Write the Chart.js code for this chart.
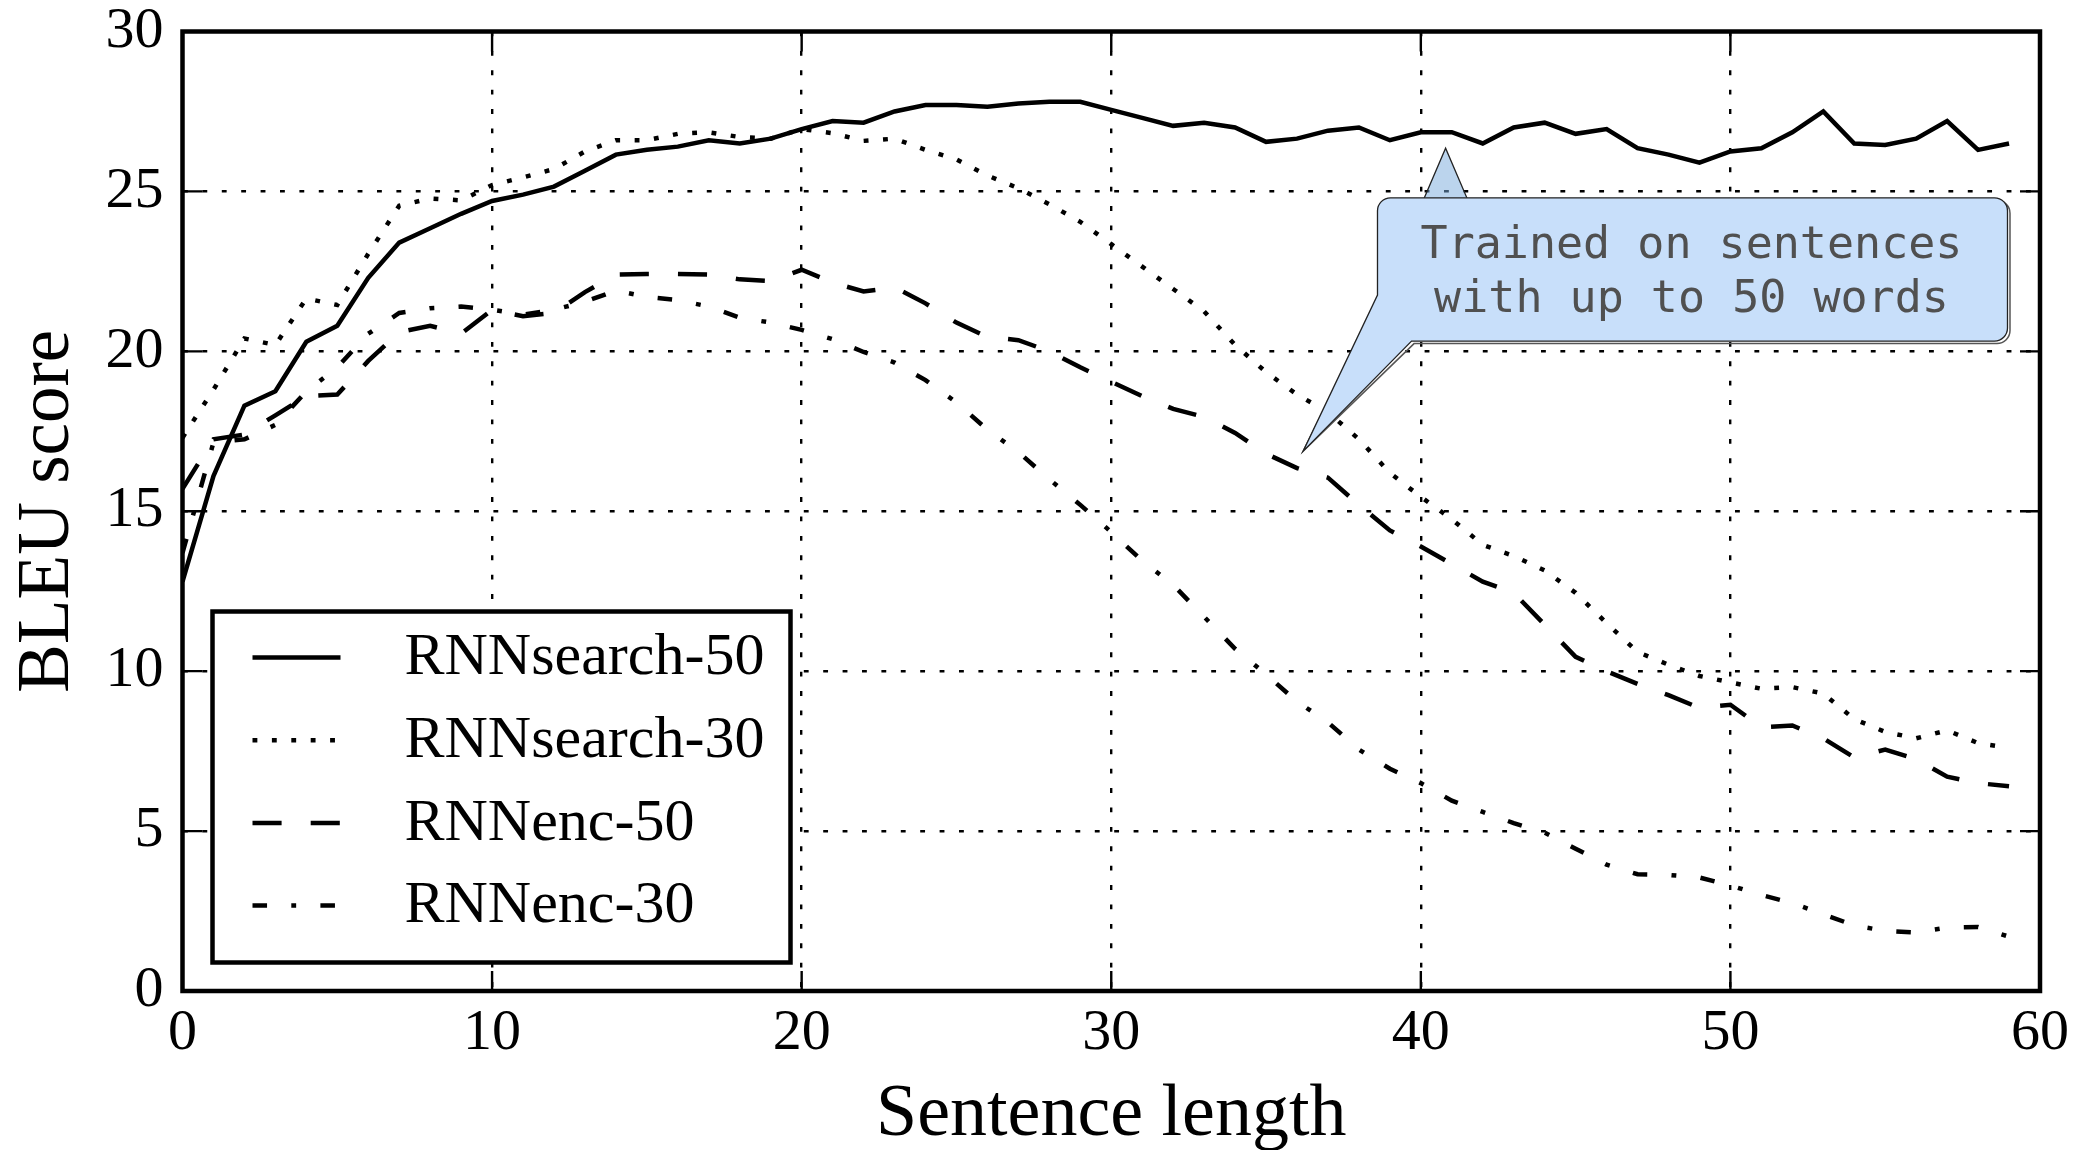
<!DOCTYPE html>
<html>
<head>
<meta charset="utf-8">
<title>BLEU score vs sentence length</title>
<script src="https://cdn.jsdelivr.net/npm/chart.js@4.4.1/dist/chart.umd.min.js"></script>
<style>
  html, body { margin: 0; padding: 0; background: #fff; }
  canvas { display: block; }
</style>
</head>
<body>
<canvas id="bleu" width="2077" height="1150"></canvas>
<script>

// values
const sentence_length = [0, 1, 2, 3, 4, 5, 6, 7, 8, 9, 10, 11, 12, 13, 14, 15, 16, 17, 18, 19,
    20, 21, 22, 23, 24, 25, 26, 27, 28, 29, 30, 31, 32, 33, 34, 35, 36, 37, 38, 39,
    40, 41, 42, 43, 44, 45, 46, 47, 48, 49, 50, 51, 52, 53, 54, 55, 56, 57, 58, 59];

const rnnsearch_50 = [12.8, 16.1, 18.3, 18.75, 20.3, 20.8, 22.3, 23.4, 23.85, 24.3,
    24.7, 24.9, 25.15, 25.65, 26.15, 26.3, 26.4, 26.6, 26.5, 26.65,
    26.95, 27.2, 27.15, 27.5, 27.7, 27.7, 27.65, 27.75, 27.8, 27.8,
    27.55, 27.3, 27.05, 27.15, 27.0, 26.55, 26.65, 26.9, 27.0, 26.6,
    26.85, 26.85, 26.5, 27.0, 27.15, 26.8, 26.95, 26.35, 26.15, 25.9,
    26.25, 26.35, 26.85, 27.5, 26.5, 26.45, 26.65, 27.2, 26.3, 26.5];

const rnnsearch_30 = [17.3, 18.8, 20.4, 20.2, 21.65, 21.45, 23.05, 24.55, 24.78, 24.72,
    25.2, 25.44, 25.7, 26.25, 26.6, 26.6, 26.8, 26.85, 26.7, 26.65,
    26.95, 26.82, 26.58, 26.65, 26.3, 26.0, 25.5, 25.1, 24.6, 24.05,
    23.35, 22.65, 21.95, 21.25, 20.2, 19.35, 18.65, 18.1, 17.25, 16.2,
    15.45, 14.75, 13.95, 13.6, 13.15, 12.45, 11.5, 10.6, 10.2, 9.85,
    9.65, 9.45, 9.5, 9.3, 8.5, 8.1, 7.9, 8.15, 7.75, 7.6];

const rnnenc_50 = [15.7, 17.25, 17.4, 18.0, 18.6, 18.65, 19.7, 20.6, 20.8, 20.55,
    21.3, 21.1, 21.2, 21.85, 22.4, 22.42, 22.42, 22.4, 22.25, 22.2,
    22.55, 22.15, 21.87, 22.0, 21.5, 20.9, 20.45, 20.35, 20.0, 19.5,
    19.05, 18.6, 18.2, 17.95, 17.45, 16.8, 16.35, 16.05, 15.2, 14.4,
    13.9, 13.35, 12.8, 12.45, 11.45, 10.45, 10.0, 9.6, 9.25, 8.85,
    8.95, 8.25, 8.3, 7.9, 7.3, 7.55, 7.25, 6.7, 6.5, 6.4];

const rnnenc_30 = [13.7, 17.15, 17.25, 17.7, 18.75, 19.5, 20.55, 21.2, 21.35, 21.4,
    21.3, 21.15, 21.3, 21.55, 21.9, 21.7, 21.6, 21.4, 21.05, 20.9,
    20.67, 20.38, 19.98, 19.65, 19.1, 18.4, 17.55, 16.85, 16.0, 15.2,
    14.35, 13.45, 12.7, 11.7, 10.7, 9.9, 9.05, 8.4, 7.55, 6.95,
    6.5, 5.95, 5.6, 5.25, 4.95, 4.45, 3.95, 3.65, 3.63, 3.55,
    3.3, 3.0, 2.75, 2.4, 2.05, 1.88, 1.83, 1.98, 2.0, 1.7];

const series_names = ['RNNsearch-50', 'RNNsearch-30', 'RNNenc-50', 'RNNenc-30'];
const x_ticks = [0, 10, 20, 30, 40, 50, 60];
const y_ticks = [0, 5, 10, 15, 20, 25, 30];
const note_lines = ['Trained on sentences', 'with up to 50 words'];

// old matplotlib line styles, 1pt ~ 4.85px here
const PT = 4.85;
const DOTTED = [1 * PT, 3 * PT];
const DASHED = [6 * PT, 6 * PT];
const DASHDOT = [3 * PT, 5 * PT, 1 * PT, 5 * PT];

const serif = "'Liberation Serif', 'DejaVu Serif', serif";

const toPoints = function(values){
    return values.map((v, i) => ({x: sentence_length[i], y: v}));
};

const lineSet = function(label, values, dash){
    return {
        label: label,
        data: toPoints(values),
        borderColor: '#000',
        borderWidth: 4.5,
        borderDash: dash,
        borderCapStyle: 'butt',
        borderJoinStyle: 'miter',
        pointRadius: 0,
        tension: 0,
        fill: false
    };
};

// frame around the axes and inward ticks on all four sides
const frameTicks = {
    id: 'frameTicks',
    afterDatasetsDraw(chart){
        const {ctx, chartArea: a, scales: {x, y}} = chart;
        ctx.save();
        ctx.strokeStyle = '#000';
        ctx.lineWidth = 2.4;
        ctx.setLineDash([]);
        ctx.beginPath();
        x_ticks.forEach(v => {
            const px = x.getPixelForValue(v);
            ctx.moveTo(px, a.bottom); ctx.lineTo(px, a.bottom - 20);
            ctx.moveTo(px, a.top); ctx.lineTo(px, a.top + 20);
        });
        y_ticks.forEach(v => {
            const py = y.getPixelForValue(v);
            ctx.moveTo(a.left, py); ctx.lineTo(a.left + 20, py);
            ctx.moveTo(a.right, py); ctx.lineTo(a.right - 20, py);
        });
        ctx.stroke();
        ctx.lineWidth = 4.5;
        ctx.strokeRect(a.left, a.top, a.right - a.left, a.bottom - a.top);
        ctx.restore();
    }
};

// speech bubble note, anchored in data units
const callout = {
    id: 'callout',
    afterDraw(chart){
        const {ctx, scales: {x, y}} = chart;
        const L = x.getPixelForValue(38.6), R = x.getPixelForValue(58.95);
        const T = y.getPixelForValue(24.8), B = y.getPixelForValue(20.32);
        const r = 13;
        const tip = [x.getPixelForValue(36.2), y.getPixelForValue(16.88)];
        const wedgeTop = y.getPixelForValue(21.76);
        const wedgeRight = x.getPixelForValue(39.7);
        const apex = [x.getPixelForValue(40.8), y.getPixelForValue(26.35)];
        const baseL = x.getPixelForValue(40.1), baseR = x.getPixelForValue(41.5);

        ctx.save();
        ctx.setLineDash([]);

        // small upward pointer
        ctx.beginPath();
        ctx.moveTo(baseL, T + 1);
        ctx.lineTo(apex[0], apex[1]);
        ctx.lineTo(baseR, T + 1);
        ctx.closePath();
        ctx.fillStyle = 'rgba(120,170,220,0.5)';
        ctx.fill();
        ctx.strokeStyle = '#222';
        ctx.lineWidth = 1.3;
        ctx.stroke();

        const outline = function(dx, dy){
            ctx.beginPath();
            ctx.moveTo(L + r + dx, T + dy);
            ctx.lineTo(R - r + dx, T + dy);
            ctx.arcTo(R + dx, T + dy, R + dx, T + r + dy, r);
            ctx.lineTo(R + dx, B - r + dy);
            ctx.arcTo(R + dx, B + dy, R - r + dx, B + dy, r);
            ctx.lineTo(wedgeRight + dx, B + dy);
            ctx.lineTo(tip[0], tip[1]);
            ctx.lineTo(L + dx, wedgeTop + dy);
            ctx.lineTo(L + dx, T + r + dy);
            ctx.arcTo(L + dx, T + dy, L + r + dx, T + dy, r);
            ctx.closePath();
        };

        outline(2.5, 2.5);
        ctx.strokeStyle = '#555';
        ctx.lineWidth = 1.5;
        ctx.stroke();

        outline(0, 0);
        ctx.fillStyle = 'rgb(200,223,250)';
        ctx.fill();
        ctx.strokeStyle = '#222';
        ctx.lineWidth = 1.3;
        ctx.stroke();

        ctx.fillStyle = '#505050';
        ctx.font = "45px 'DejaVu Sans Mono', monospace";
        ctx.textAlign = 'center';
        ctx.textBaseline = 'alphabetic';
        const cx = (L + R) / 2 - 1;
        ctx.fillText(note_lines[0], cx, T + 60);
        ctx.fillText(note_lines[1], cx, T + 114);
        ctx.restore();
    }
};

// boxed legend inside the plot, lower left
const boxLegend = {
    id: 'boxLegend',
    afterDraw(chart){
        const {ctx, chartArea: a} = chart;
        const left = a.left + 30, top = a.top + 580, w = 578, h = 351;
        ctx.save();
        ctx.setLineDash([]);
        ctx.fillStyle = '#fff';
        ctx.fillRect(left, top, w, h);
        ctx.strokeStyle = '#000';
        ctx.lineWidth = 4.5;
        ctx.strokeRect(left, top, w, h);

        ctx.font = '60px ' + serif;
        ctx.textAlign = 'left';
        ctx.textBaseline = 'middle';
        chart.data.datasets.forEach((ds, i) => {
            const rowY = top + 46 + i * 82.7;
            ctx.beginPath();
            ctx.setLineDash(ds.borderDash || []);
            ctx.lineCap = 'butt';
            ctx.lineWidth = ds.borderWidth;
            ctx.strokeStyle = ds.borderColor;
            ctx.moveTo(left + 40, rowY);
            ctx.lineTo(left + 128, rowY);
            ctx.stroke();
            ctx.setLineDash([]);
            ctx.fillStyle = '#000';
            ctx.fillText(ds.label, left + 192, rowY + 1);
        });
        ctx.restore();
    }
};

const ctx = document.getElementById('bleu').getContext('2d');
const bleuChart = new Chart(ctx, {
    type: 'line',
    data: {
        datasets: [
            lineSet(series_names[0], rnnsearch_50, []),
            lineSet(series_names[1], rnnsearch_30, DOTTED),
            lineSet(series_names[2], rnnenc_50, DASHED),
            lineSet(series_names[3], rnnenc_30, DASHDOT)
        ]
    },
    options: {
        responsive: false,
        animation: false,
        layout: { padding: { top: 31.5, right: 37, left: 0, bottom: 0 } },
        plugins: {
            legend: { display: false },
            tooltip: { enabled: false }
        },
        scales: {
            x: {
                type: 'linear',
                min: 0, max: 60,
                afterFit(scale){
                    scale.height = 159;
                    scale.paddingLeft = 0;
                    scale.paddingRight = 0;
                },
                afterBuildTicks(scale){ scale.ticks = x_ticks.map(v => ({value: v})); },
                ticks: {
                    color: '#000',
                    padding: 8,
                    maxRotation: 0,
                    font: { family: serif, size: 58, lineHeight: 1.2 }
                },
                grid: { color: '#000', lineWidth: 2.4, drawTicks: false },
                border: { display: false, dash: DOTTED },
                title: {
                    display: true,
                    text: 'Sentence length',
                    color: '#000',
                    font: { family: serif, size: 74, lineHeight: 0.86 },
                    padding: { top: 0, bottom: 3 }
                }
            },
            y: {
                type: 'linear',
                min: 0, max: 30,
                afterFit(scale){
                    scale.width = 182.5;
                    scale.paddingTop = 0;
                    scale.paddingBottom = 0;
                },
                afterBuildTicks(scale){ scale.ticks = y_ticks.map(v => ({value: v})); },
                ticks: {
                    color: '#000',
                    padding: 19,
                    font: { family: serif, size: 58, lineHeight: 1.2 }
                },
                grid: { color: '#000', lineWidth: 2.4, drawTicks: false },
                border: { display: false, dash: DOTTED },
                title: {
                    display: true,
                    text: 'BLEU score',
                    color: '#000',
                    font: { family: serif, size: 73, lineHeight: 1.2 },
                    padding: { top: 5, bottom: 0 }
                }
            }
        }
    },
    plugins: [frameTicks, callout, boxLegend]
});
</script>
</body>
</html>
